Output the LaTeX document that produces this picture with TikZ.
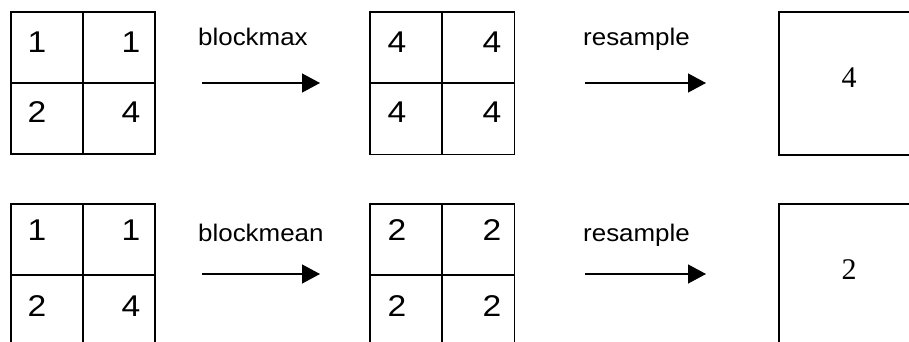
\documentclass[tikz,border=0pt]{standalone}
\usepackage{fontspec}
\usepackage{graphicx}
\setmainfont{Liberation Sans}
\newfontfamily\timesfnt{Liberation Serif}
\usetikzlibrary{arrows.meta}
\newcommand{\hsc}[1]{\scalebox{1.12}[1]{#1}}
\newcommand{\hsl}[1]{\scalebox{1.08}[1]{#1}}
\begin{document}
\begin{tikzpicture}[x=1pt,y=-1pt,
  cell/.style={draw, line width=1.8pt, minimum width=72pt, minimum height=71pt, inner sep=0pt, anchor=north west},
  bigbox/.style={draw, line width=1.8pt, minimum width=150pt, minimum height=143pt, inner sep=0pt, anchor=north west},
  num/.style={inner sep=0pt, font=\fontsize{30}{32}\selectfont},
  tnum/.style={inner sep=0pt, font=\timesfnt\fontsize{30}{32}\selectfont},
  lab/.style={inner sep=0pt, anchor=base west, font=\fontsize{24}{26}\selectfont},
  arr/.style={line width=1.2pt, -{Triangle[length=18pt,width=19pt]}}]
\useasboundingbox (0,0) rectangle (909,342);
\clip (0,0) rectangle (909,342);

% ---------- top row ----------
\node[cell] (ta11) at (10,11) {};
\node[cell] (ta12) at (82,11) {};
\node[cell] (ta21) at (10,82) {};
\node[cell] (ta22) at (82,82) {};
\node[num] (tn11) at (37,42) {\hsc{1}};
\node[num] (tn12) at (131,42) {\hsc{1}};
\node[num] (tn21) at (37,112) {\hsc{2}};
\node[num] (tn22) at (131,112) {\hsc{4}};

\node[lab] (tl1) at (198,46) {\hsl{blockmax}};
\coordinate (ta1s) at (202,83);
\coordinate (ta1e) at (320,83);
\draw[arr] (ta1s) -- (ta1e);

\node[cell] (tb11) at (369,11) {};
\node[cell] (tb12) at (441.5,11) {};
\node[cell] (tb21) at (369,82.5) {};
\node[cell] (tb22) at (441.5,82.5) {};
\node[num] (tm11) at (397,42) {\hsc{4}};
\node[num] (tm12) at (492,42) {\hsc{4}};
\node[num] (tm21) at (397,112) {\hsc{4}};
\node[num] (tm22) at (492,112) {\hsc{4}};

\node[lab] (tl2) at (583,46) {\hsl{resample}};
\coordinate (ta2s) at (585,83);
\coordinate (ta2e) at (706,83);
\draw[arr] (ta2s) -- (ta2e);

\node[bigbox] (tbox) at (778,11) {};
\node[tnum] (tr) at (849,78) {4};

% ---------- bottom row ----------
\node[cell] (ba11) at (10,203) {};
\node[cell] (ba12) at (82,203) {};
\node[cell] (ba21) at (10,274) {};
\node[cell] (ba22) at (82,274) {};
\node[num] (bn11) at (37,230) {\hsc{1}};
\node[num] (bn12) at (131,230) {\hsc{1}};
\node[num] (bn21) at (37,306) {\hsc{2}};
\node[num] (bn22) at (131,306) {\hsc{4}};

\node[lab] (bl1) at (198,241) {\hsl{blockmean}};
\coordinate (ba1s) at (202,274);
\coordinate (ba1e) at (320,274);
\draw[arr] (ba1s) -- (ba1e);

\node[cell] (bb11) at (369,203) {};
\node[cell] (bb12) at (441.5,203) {};
\node[cell] (bb21) at (369,274) {};
\node[cell] (bb22) at (441.5,274) {};
\node[num] (bm11) at (397,230) {\hsc{2}};
\node[num] (bm12) at (492,230) {\hsc{2}};
\node[num] (bm21) at (397,306) {\hsc{2}};
\node[num] (bm22) at (492,306) {\hsc{2}};

\node[lab] (bl2) at (583,241) {\hsl{resample}};
\coordinate (ba2s) at (585,274);
\coordinate (ba2e) at (706,274);
\draw[arr] (ba2s) -- (ba2e);

\node[bigbox] (bbox) at (778,203) {};
\node[tnum] (br) at (849,270) {2};
\end{tikzpicture}
\end{document}
